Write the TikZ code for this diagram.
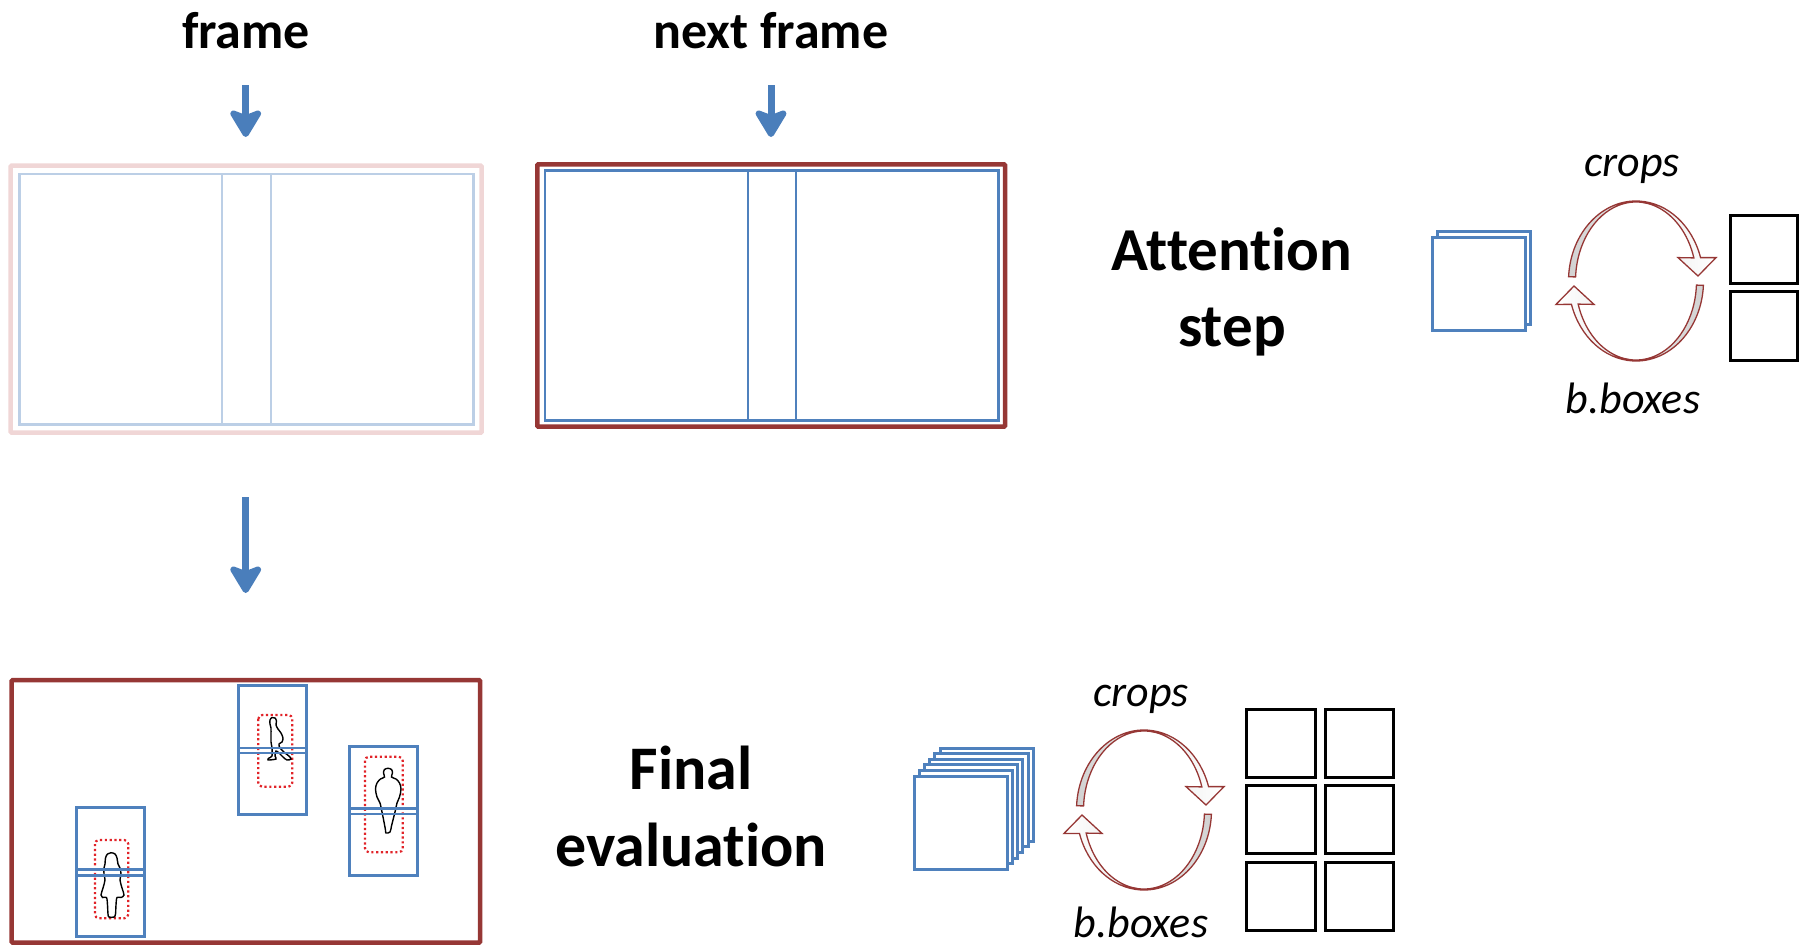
\documentclass[tikz,border=0pt]{standalone}
\usepackage{fontspec}
\setmainfont{Carlito}[Ligatures={CommonOff,ContextualOff}]
\usetikzlibrary{arrows.meta}
\definecolor{frameblue}{RGB}{79,129,189}
\definecolor{arrowblue}{RGB}{74,126,187}
\definecolor{framered}{RGB}{150,55,53}
\definecolor{paleblue}{RGB}{188,207,230}
\definecolor{palered}{RGB}{240,214,214}
\definecolor{dotred}{RGB}{225,35,40}

\tikzset{
  loopfill/.style={left color=gray!35, right color=white},
  % one half of the crops / b.boxes cycle: a ribbon arc ending in an open head
  halfloop/.pic={
    \path[draw=framered, line width=1.3pt, line join=miter, loopfill]
      (183:67.5 and 80) arc[start angle=183, end angle=343, x radius=67.5, y radius=80]
      -- (80,-23.4) -- (62,-5) -- (42,-23.4) -- (343:60.5 and 79)
      arc[start angle=343, end angle=183, x radius=60.5, y radius=79] -- cycle;
  }
}

\begin{document}
\begin{tikzpicture}[x=1pt, y=-1pt,
  label/.style={font=\fontsize{52}{62}\selectfont\bfseries, inner sep=0pt},
  stagelabel/.style={font=\fontsize{61}{76}\selectfont\bfseries, align=center, inner sep=0pt},
  looplabel/.style={font=\fontsize{44}{52}\selectfont\itshape, inner sep=0pt},
  flowarrow/.style={draw=arrowblue, line width=7pt,
    -{Stealth[round, length=32pt, width=38pt, inset=7pt]}},
  redframe/.style={draw=framered, line width=4.5pt, rounded corners=1pt},
  blueframe/.style={draw=frameblue, line width=2.5pt},
  cropbox/.style={draw=frameblue, line width=3pt, fill=white},
  outbox/.style={draw=black, line width=3pt},
  detbox/.style={draw=dotred, line width=2.2pt, rounded corners=4pt,
    dash pattern=on 2.2pt off 2.6pt},
  person/.style={draw=black, line width=1.4pt, fill=white},
  flipped/.style={rotate=180, loopfill/.style={left color=white, right color=gray!35}}
]
\useasboundingbox (0,0) rectangle (1799,945);
\clip (0,0) rectangle (1799,945);

% ---------- titles and input arrows ----------
\node[label, anchor=base] (lblframe) at (246,48) {frame};
\node[label, anchor=base] (lblnext) at (771,48) {next frame};

\coordinate (fa1) at (245.7,85);  \coordinate (fa2) at (245.7,137);
\coordinate (na1) at (771,85);    \coordinate (na2) at (771,137);
\coordinate (da1) at (245.7,497); \coordinate (da2) at (245.7,593);
\draw[flowarrow] (fa1) -- (fa2);
\draw[flowarrow] (na1) -- (na2);
\draw[flowarrow] (da1) -- (da2);

% ---------- current frame (faded) ----------
\draw[draw=palered, line width=4.5pt, rounded corners=1pt] (10.7,165.7) rectangle (481.7,432.7);
\draw[draw=paleblue, line width=2.4pt] (19.3,173.7) rectangle (473.3,424.3);
\draw[draw=paleblue, line width=2.4pt] (222,173.7) -- (222,424.3);
\draw[draw=paleblue, line width=2.4pt] (270.7,173.7) -- (270.7,424.3);

% ---------- next frame ----------
\draw[redframe] (537.3,164.3) rectangle (1005,426.7);
\draw[blueframe] (545,170.7) rectangle (998.7,420.7);
\draw[blueframe] (748,170.7) rectangle (796,420.7);

% ---------- attention step ----------
\node[stagelabel, anchor=base] (att) at (1232,346.7) {Attention\\step};

\foreach \i in {1,0}
  \draw[cropbox] ({1432.3+5*\i},{237.3-5.6*\i}) rectangle ++(92.7,92.7);

\pic at (1636,281) {halfloop};
\pic[flipped] at (1636,281) {halfloop};
\node[looplabel, anchor=base] (attcrops) at (1632,176.7) {crops};
\node[looplabel, anchor=base] (attboxes) at (1633,413.3) {b.boxes};

\draw[outbox] (1730,215.7) rectangle ++(67.5,67.6);
\draw[outbox] (1730,291.7) rectangle ++(67.5,68.3);

% ---------- final frame with detections ----------
\draw[redframe] (11.7,680) rectangle (480,942.7);

% left person
\draw[cropbox] (76,807.7) rectangle (144,936);
\draw[detbox] (95,840) rectangle (128.3,918.3);
\draw[person] plot[smooth cycle, tension=0.55] coordinates {
  (111,852.7) (115,854) (117,858) (118,864) (120,868) (121,874) (120,880)
  (122,888) (124,895) (121,897.5) (117,897.5) (116,905) (115.5,914) (114,917)
  (109,917) (108,914) (107.5,905) (106.5,897.5) (102.5,897.5) (101,895) (103,888)
  (105,880) (104,874) (104,868) (105,864) (105.5,858) (107.5,854)};
\draw[draw=frameblue, line width=2.5pt] (76,869.5) -- (144,869.5);
\draw[draw=frameblue, line width=2.5pt] (76,875.5) -- (144,875.5);

% walking person
\draw[cropbox] (238.7,685) rectangle (306.7,814.3);
\draw[detbox] (258.3,715) rectangle (292.3,786.7);
\draw[person] plot[smooth cycle, tension=0.5] coordinates {
  (272,717.5) (275,718) (276.5,721) (276,725) (278,729) (281,733) (283,738)
  (282,742) (279,744) (280,748) (285,753) (289,756) (291,759) (287,760)
  (283,757) (279,753) (276,751) (275,756) (276,759) (268,760) (269,758)
  (272,756) (272,748) (271,742) (271,735) (271,728) (270,724) (270,720)};
\draw[draw=frameblue, line width=2.5pt] (238.7,748) -- (306.7,748);
\draw[draw=frameblue, line width=2.5pt] (238.7,753) -- (306.7,753);

% right person
\draw[cropbox] (349.3,746.7) rectangle (417.7,875.7);
\draw[detbox] (365,756.7) rectangle (402.7,852.3);
\draw[person] plot[smooth cycle, tension=0.55] coordinates {
  (388,768.3) (391.5,769.5) (392.5,773) (391.5,777) (396,779) (399.5,783) (401,789)
  (399.5,797) (397,803) (395.5,810) (393.5,818) (391.5,826) (390,832) (386,833)
  (385.5,830) (384,822) (382,812) (380,803) (377,797) (375.5,789) (377,783)
  (380.5,779) (384.5,777) (383.5,773) (384.5,769.5)};
\draw[draw=frameblue, line width=2.5pt] (349.3,808.5) -- (417.7,808.5);
\draw[draw=frameblue, line width=2.5pt] (349.3,814) -- (417.7,814);

% ---------- final evaluation ----------
\node[stagelabel, anchor=base, font=\fontsize{62}{77}\selectfont\bfseries] (fin) at (691,866.7) {Final\\evaluation};

\foreach \i in {5,...,0}
  \draw[cropbox] ({914+5.2*\i},{776-5.6*\i}) rectangle ++(93.3,93.3);

\pic at (1144,810) {halfloop};
\pic[flipped] at (1144,810) {halfloop};
\node[looplabel, anchor=base] (fincrops) at (1141,706) {crops};
\node[looplabel, anchor=base] (finboxes) at (1141,937) {b.boxes};

\foreach \c in {1246.7,1325}
  \foreach \r in {709.3,785,862.3}
    \draw[outbox] (\c,\r) rectangle ++(68.5,68.4);
\end{tikzpicture}
\end{document}
